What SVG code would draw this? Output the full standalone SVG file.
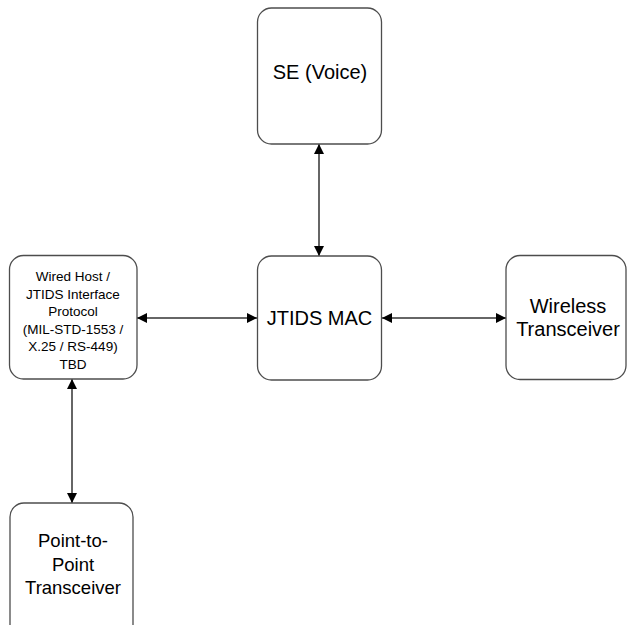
<svg xmlns="http://www.w3.org/2000/svg" width="627" height="625" viewBox="0 0 627 625">
  <style>
    .box { fill: #ffffff; stroke: #4d4d4d; stroke-width: 1.3; }
    .lbl { font-family: "Liberation Sans", Arial, sans-serif; fill: #000000; text-anchor: middle; }
    .big { font-size: 20px; }
    .mid { font-size: 18.5px; }
    .small { font-size: 13.5px; }
    .link { stroke: #333333; stroke-width: 1.5; fill: none; marker-start: url(#arrow); marker-end: url(#arrow); }
  </style>
  <defs>
    <marker id="arrow" viewBox="0 0 10 10" refX="10" refY="5" markerWidth="10" markerHeight="10" markerUnits="userSpaceOnUse" orient="auto-start-reverse">
      <path d="M0,0 L10,5 L0,10 Z" fill="#000000"/>
    </marker>
  </defs>

  <rect width="627" height="625" fill="#ffffff"/>

  <g id="connectors">
    <line class="link" x1="319" y1="144" x2="319" y2="256"/>
    <line class="link" x1="137" y1="318" x2="257" y2="318"/>
    <line class="link" x1="382" y1="318" x2="506" y2="318"/>
    <line class="link" x1="72" y1="379" x2="72" y2="503"/>
  </g>

  <g id="se-voice">
    <rect class="box" x="257.5" y="8" width="124" height="136" rx="14"/>
    <text class="lbl big" x="320" y="78.5">SE (Voice)</text>
  </g>

  <g id="jtids-mac">
    <rect class="box" x="257.5" y="256" width="124" height="124" rx="14"/>
    <text class="lbl big" x="319.5" y="325">JTIDS MAC</text>
  </g>

  <g id="wireless-transceiver">
    <rect class="box" x="506" y="255.5" width="120" height="124" rx="14"/>
    <text class="lbl big" x="568" y="313">Wireless</text>
    <text class="lbl big" x="568" y="336">Transceiver</text>
  </g>

  <g id="wired-host">
    <rect class="box" x="9.5" y="255.5" width="127.5" height="123.5" rx="14"/>
    <text class="lbl small" x="73" y="281">Wired Host /</text>
    <text class="lbl small" x="73" y="298.5">JTIDS Interface</text>
    <text class="lbl small" x="73" y="316">Protocol</text>
    <text class="lbl small" x="73" y="333.5">(MIL-STD-1553 /</text>
    <text class="lbl small" x="73" y="351">X.25 / RS-449)</text>
    <text class="lbl small" x="73" y="368.5">TBD</text>
  </g>

  <g id="point-to-point">
    <rect class="box" x="10" y="503" width="123" height="140" rx="14"/>
    <text class="lbl mid" x="73" y="547">Point-to-</text>
    <text class="lbl mid" x="73" y="570.5">Point</text>
    <text class="lbl mid" x="73" y="594">Transceiver</text>
  </g>
</svg>
